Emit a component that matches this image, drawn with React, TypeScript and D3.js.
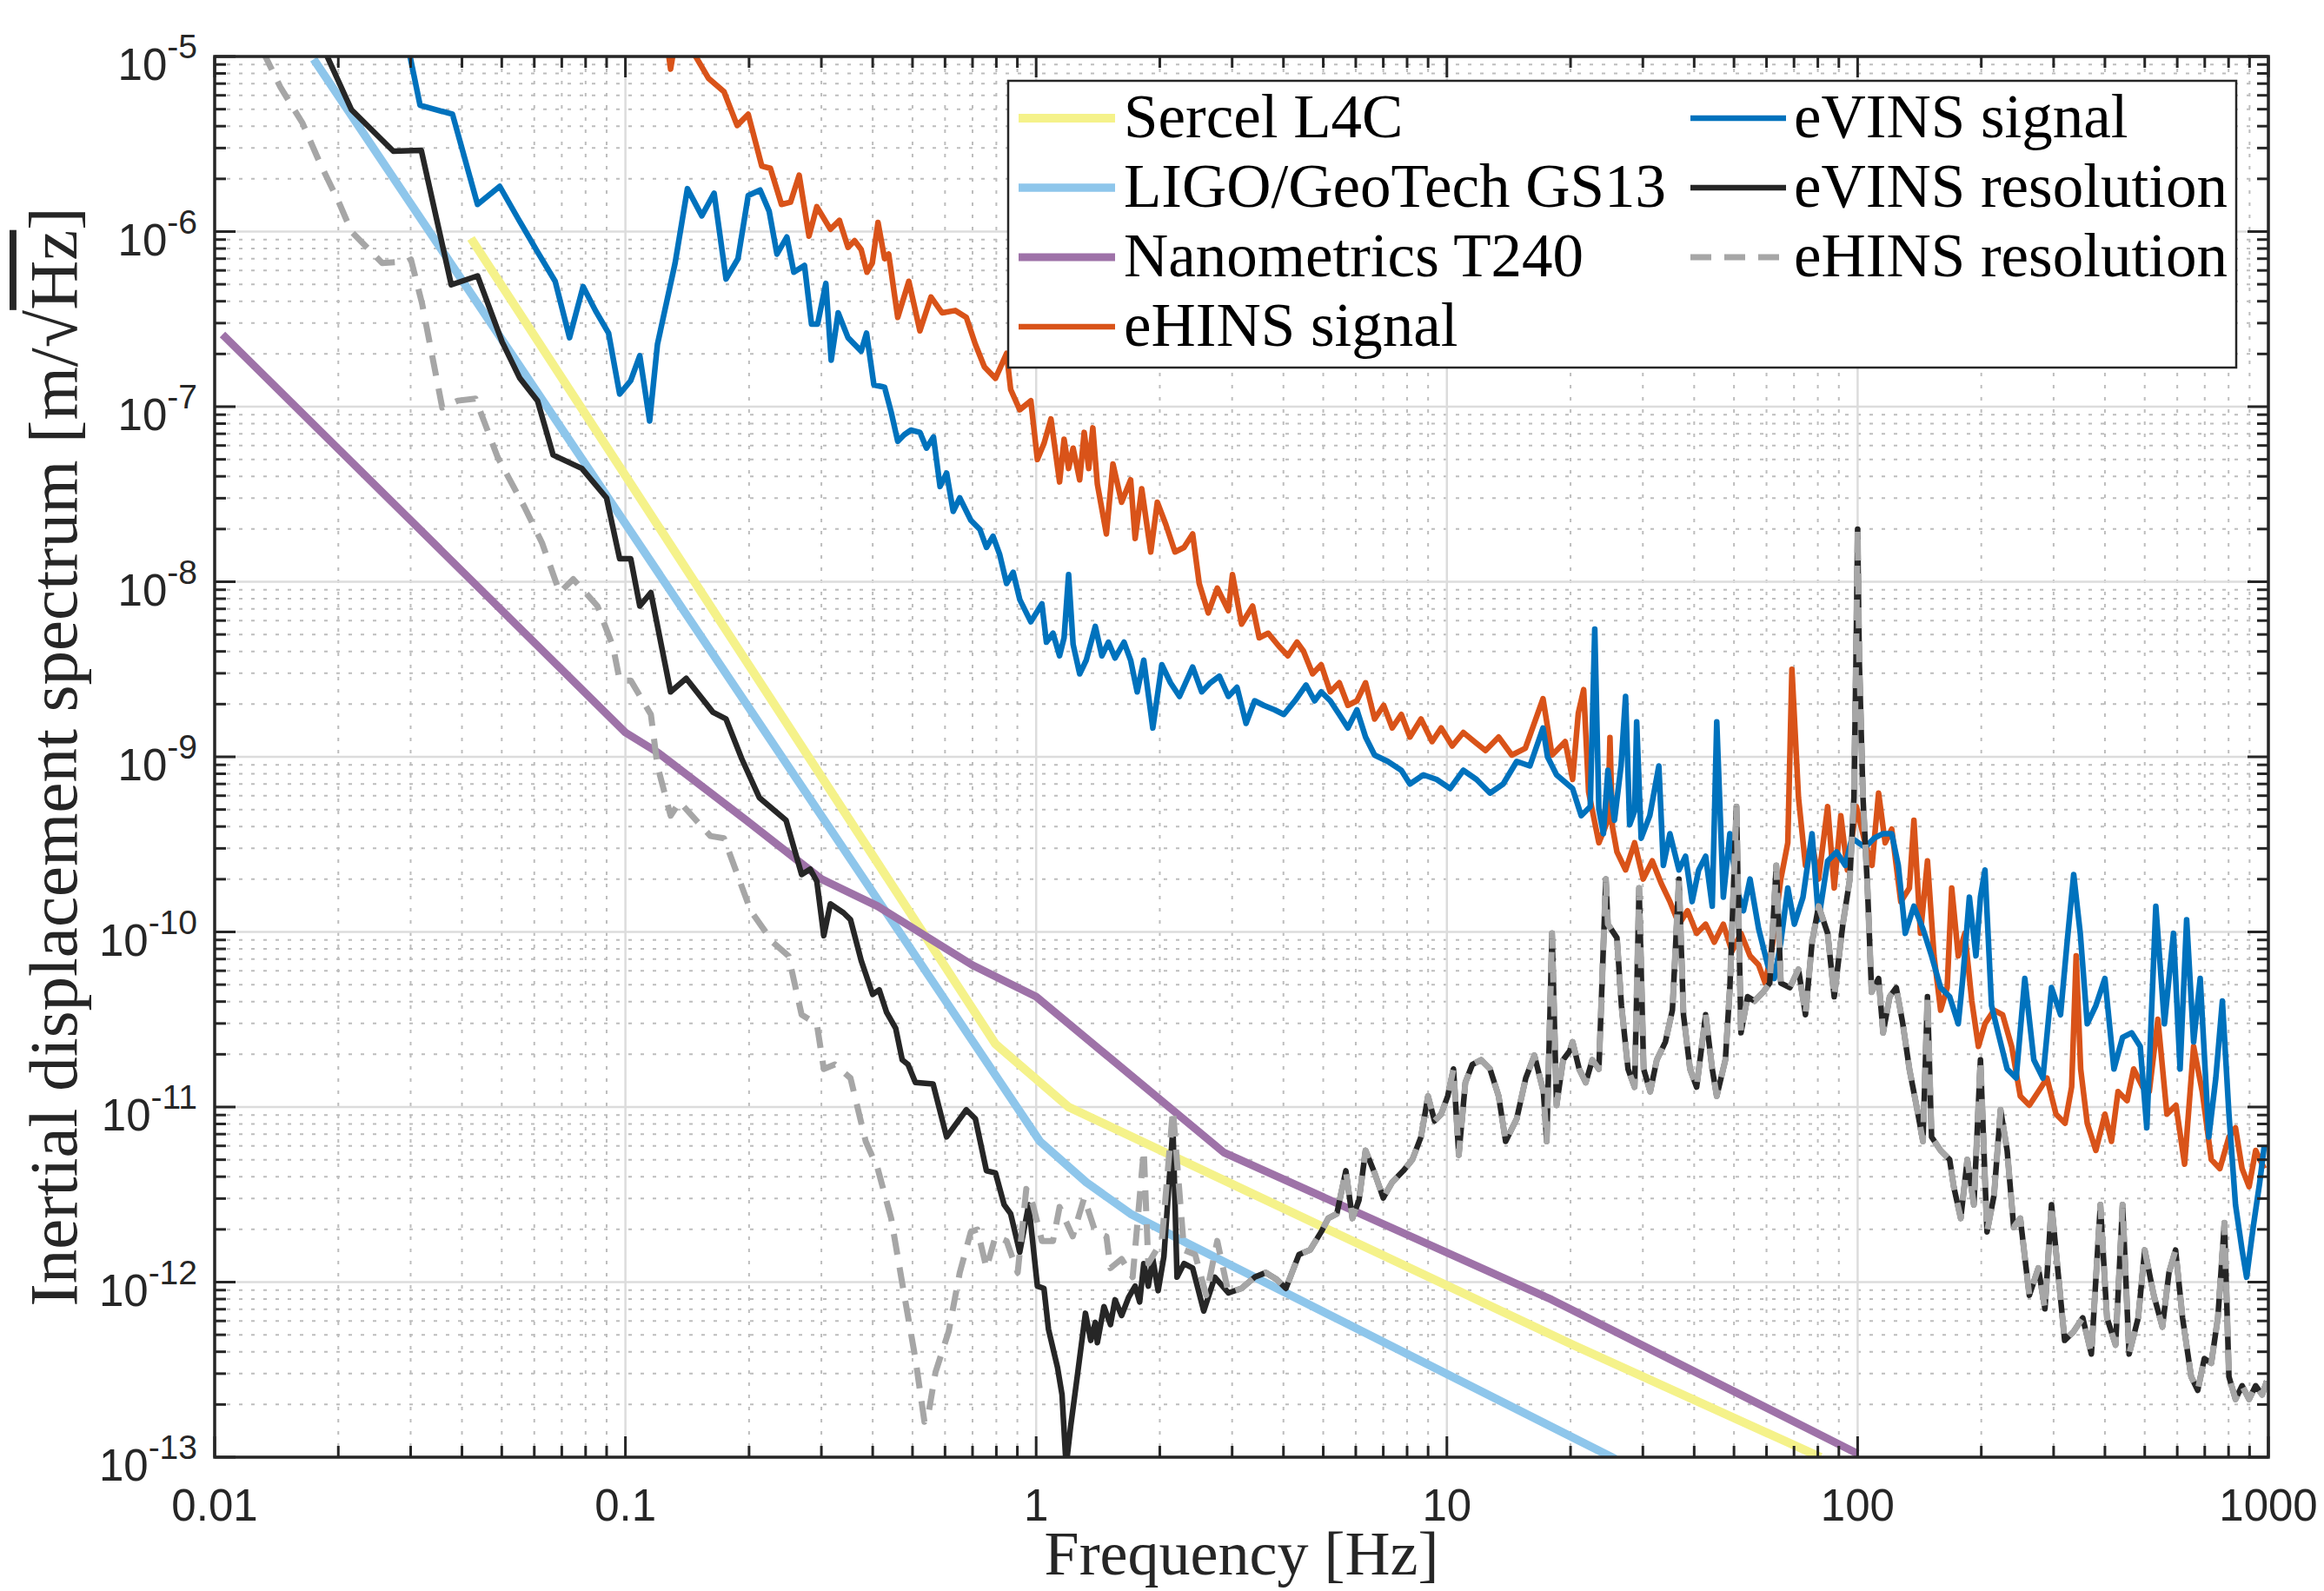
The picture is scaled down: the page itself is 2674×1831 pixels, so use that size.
import React from 'react';
import * as d3 from 'd3';

type P = [number, number];

// ---------- axis / tick data ----------
const xTickValues = [0.01, 0.1, 1, 10, 100, 1000];
const xTickLabels = ['0.01', '0.1', '1', '10', '100', '1000'];
const yTickExponents = [-5, -6, -7, -8, -9, -10, -11, -12, -13];

// ---------- series data: [log10 frequency (Hz), log10 amplitude (m/sqrt(Hz))] ----------
const sercelL4C: P[] = [[-1.376, -6.039], [-0.099, -10.64], [0.079, -11.0], [1.308, -12.36], [1.91, -13.0]];

const ligoGS13: P[] = [[-1.759, -5.015], [0.009, -11.196], [0.122, -11.43], [0.23, -11.61], [0.37, -11.78], [1.41, -13.01]];

const nanometricsT240: P[] = [[-1.981, -6.588], [-1.0, -8.861], [-0.922, -8.974], [-0.706, -9.362], [-0.523, -9.698], [-0.386, -9.853], [-0.155, -10.19], [0.0, -10.37], [0.457, -11.26], [1.255, -12.10], [2.0, -12.98]];

const ehinsSignal: P[] = [[-0.900, -4.9], [-0.890, -5.072], [-0.878, -4.9], [-0.840, -4.9], [-0.830, -4.995], [-0.798, -5.124], [-0.760, -5.201], [-0.728, -5.394], [-0.701, -5.330], [-0.668, -5.626], [-0.647, -5.639], [-0.620, -5.845], [-0.598, -5.832], [-0.577, -5.678], [-0.553, -6.026], [-0.534, -5.858], [-0.501, -5.987], [-0.479, -5.936], [-0.458, -6.090], [-0.442, -6.052], [-0.426, -6.103], [-0.412, -6.232], [-0.399, -6.180], [-0.385, -5.948], [-0.369, -6.155], [-0.359, -6.129], [-0.337, -6.490], [-0.310, -6.284], [-0.283, -6.567], [-0.256, -6.374], [-0.229, -6.464], [-0.197, -6.451], [-0.170, -6.490], [-0.148, -6.644], [-0.126, -6.773], [-0.099, -6.838], [-0.072, -6.696], [-0.062, -6.902], [-0.040, -7.018], [-0.013, -6.966], [0.003, -7.302], [0.019, -7.211], [0.036, -7.070], [0.057, -7.430], [0.068, -7.186], [0.079, -7.353], [0.090, -7.237], [0.106, -7.418], [0.117, -7.147], [0.128, -7.353], [0.138, -7.121], [0.149, -7.443], [0.171, -7.727], [0.187, -7.327], [0.208, -7.546], [0.230, -7.418], [0.241, -7.753], [0.257, -7.469], [0.279, -7.830], [0.295, -7.546], [0.316, -7.675], [0.338, -7.830], [0.360, -7.804], [0.381, -7.727], [0.397, -8.010], [0.419, -8.178], [0.441, -8.036], [0.468, -8.165], [0.478, -7.959], [0.500, -8.242], [0.527, -8.139], [0.543, -8.320], [0.565, -8.294], [0.592, -8.371], [0.613, -8.423], [0.635, -8.345], [0.651, -8.397], [0.673, -8.526], [0.694, -8.474], [0.716, -8.629], [0.738, -8.577], [0.759, -8.706], [0.781, -8.680], [0.802, -8.577], [0.824, -8.784], [0.846, -8.706], [0.867, -8.835], [0.889, -8.758], [0.910, -8.887], [0.937, -8.784], [0.964, -8.913], [0.986, -8.835], [1.013, -8.938], [1.040, -8.861], [1.067, -8.913], [1.094, -8.964], [1.126, -8.887], [1.158, -8.990], [1.191, -8.951], [1.234, -8.668], [1.256, -8.990], [1.288, -8.913], [1.306, -9.129], [1.320, -8.75], [1.333, -8.616], [1.345, -9.2], [1.370, -9.491], [1.392, -9.362], [1.397, -8.89], [1.403, -9.4], [1.414, -9.543], [1.435, -9.646], [1.457, -9.491], [1.478, -9.698], [1.500, -9.594], [1.522, -9.724], [1.543, -9.827], [1.565, -9.956], [1.586, -9.879], [1.608, -10.008], [1.630, -9.956], [1.651, -10.059], [1.673, -9.956], [1.694, -10.111], [1.716, -10.008], [1.738, -10.137], [1.759, -10.189], [1.775, -10.292], [1.792, -10.085], [1.813, -9.698], [1.830, -9.491], [1.840, -8.50], [1.856, -9.233], [1.873, -9.620], [1.889, -9.491], [1.905, -9.698], [1.927, -9.284], [1.943, -9.749], [1.959, -9.336], [1.975, -9.646], [1.997, -9.284], [2.018, -9.491], [2.035, -9.620], [2.051, -9.207], [2.067, -9.491], [2.083, -9.413], [2.105, -9.827], [2.126, -9.749], [2.137, -9.362], [2.153, -10.008], [2.170, -9.594], [2.186, -10.137], [2.202, -10.447], [2.218, -10.318], [2.229, -9.749], [2.245, -10.137], [2.261, -10.008], [2.278, -10.395], [2.294, -10.654], [2.310, -10.525], [2.332, -10.447], [2.353, -10.473], [2.375, -10.654], [2.396, -10.938], [2.418, -10.990], [2.440, -10.912], [2.461, -10.835], [2.483, -11.041], [2.505, -11.093], [2.521, -10.886], [2.532, -10.137], [2.543, -10.783], [2.559, -11.093], [2.580, -11.248], [2.602, -11.041], [2.618, -11.196], [2.634, -10.912], [2.656, -10.964], [2.672, -10.783], [2.694, -10.886], [2.710, -10.912], [2.731, -10.499], [2.753, -11.041], [2.775, -10.990], [2.796, -11.326], [2.818, -10.654], [2.839, -10.912], [2.861, -11.300], [2.882, -11.352], [2.904, -11.171], [2.920, -11.119], [2.936, -11.352], [2.953, -11.455], [2.969, -11.248], [2.990, -11.352]];

const evinsSignal: P[] = [[-1.527, -4.969], [-1.500, -5.278], [-1.421, -5.330], [-1.392, -5.575], [-1.360, -5.845], [-1.306, -5.742], [-1.262, -5.923], [-1.214, -6.116], [-1.171, -6.284], [-1.136, -6.606], [-1.103, -6.314], [-1.073, -6.451], [-1.041, -6.580], [-1.014, -6.928], [-0.987, -6.851], [-0.965, -6.709], [-0.941, -7.082], [-0.922, -6.644], [-0.879, -6.180], [-0.849, -5.755], [-0.814, -5.910], [-0.784, -5.781], [-0.755, -6.271], [-0.726, -6.155], [-0.701, -5.794], [-0.672, -5.763], [-0.650, -5.884], [-0.631, -6.129], [-0.607, -6.031], [-0.590, -6.232], [-0.564, -6.193], [-0.547, -6.528], [-0.532, -6.528], [-0.512, -6.296], [-0.499, -6.735], [-0.482, -6.464], [-0.458, -6.606], [-0.426, -6.683], [-0.413, -6.580], [-0.395, -6.876], [-0.369, -6.889], [-0.353, -7.031], [-0.337, -7.198], [-0.321, -7.160], [-0.305, -7.134], [-0.283, -7.147], [-0.267, -7.237], [-0.250, -7.173], [-0.234, -7.456], [-0.218, -7.379], [-0.202, -7.598], [-0.186, -7.521], [-0.159, -7.649], [-0.137, -7.701], [-0.121, -7.804], [-0.105, -7.740], [-0.089, -7.843], [-0.072, -8.010], [-0.056, -7.946], [-0.040, -8.101], [-0.013, -8.229], [0.014, -8.126], [0.025, -8.345], [0.041, -8.294], [0.057, -8.423], [0.068, -8.320], [0.079, -7.959], [0.090, -8.358], [0.106, -8.526], [0.122, -8.448], [0.144, -8.255], [0.160, -8.423], [0.176, -8.345], [0.192, -8.436], [0.214, -8.345], [0.230, -8.448], [0.246, -8.629], [0.262, -8.448], [0.284, -8.835], [0.306, -8.474], [0.327, -8.577], [0.349, -8.655], [0.381, -8.487], [0.403, -8.629], [0.424, -8.577], [0.446, -8.539], [0.468, -8.655], [0.489, -8.603], [0.511, -8.809], [0.532, -8.680], [0.554, -8.706], [0.581, -8.732], [0.603, -8.758], [0.630, -8.680], [0.657, -8.590], [0.678, -8.680], [0.694, -8.629], [0.716, -8.680], [0.738, -8.758], [0.759, -8.835], [0.781, -8.732], [0.802, -8.887], [0.824, -8.990], [0.856, -9.026], [0.889, -9.077], [0.910, -9.155], [0.943, -9.103], [0.975, -9.129], [1.008, -9.181], [1.040, -9.077], [1.072, -9.129], [1.105, -9.207], [1.137, -9.155], [1.170, -9.026], [1.202, -9.052], [1.234, -8.835], [1.245, -9.0], [1.267, -9.103], [1.306, -9.181], [1.327, -9.336], [1.349, -9.284], [1.360, -8.27], [1.370, -9.3], [1.381, -9.439], [1.392, -9.077], [1.408, -9.362], [1.424, -9.052], [1.435, -8.655], [1.445, -9.388], [1.457, -9.310], [1.462, -8.80], [1.473, -9.465], [1.494, -9.336], [1.516, -9.052], [1.527, -9.620], [1.543, -9.439], [1.565, -9.646], [1.581, -9.568], [1.597, -9.827], [1.613, -9.646], [1.630, -9.568], [1.646, -9.853], [1.657, -8.80], [1.673, -9.801], [1.689, -9.439], [1.705, -9.749], [1.722, -9.879], [1.738, -9.698], [1.759, -9.982], [1.781, -10.189], [1.797, -10.266], [1.813, -10.059], [1.830, -9.749], [1.846, -9.956], [1.867, -9.801], [1.889, -9.439], [1.905, -9.930], [1.927, -9.594], [1.949, -9.543], [1.970, -9.620], [1.986, -9.465], [2.018, -9.517], [2.040, -9.465], [2.062, -9.439], [2.083, -9.439], [2.099, -9.620], [2.116, -10.008], [2.137, -9.853], [2.159, -9.982], [2.180, -10.137], [2.202, -10.318], [2.224, -10.370], [2.245, -10.525], [2.256, -10.266], [2.272, -9.801], [2.288, -10.137], [2.299, -9.801], [2.310, -9.646], [2.326, -10.421], [2.342, -10.576], [2.364, -10.783], [2.386, -10.835], [2.407, -10.266], [2.429, -10.731], [2.451, -10.835], [2.472, -10.318], [2.494, -10.473], [2.510, -10.059], [2.526, -9.672], [2.542, -10.008], [2.559, -10.525], [2.580, -10.421], [2.602, -10.266], [2.624, -10.783], [2.645, -10.602], [2.667, -10.576], [2.688, -10.654], [2.704, -11.119], [2.726, -9.853], [2.747, -10.525], [2.769, -10.008], [2.785, -10.783], [2.801, -9.930], [2.818, -10.628], [2.834, -10.266], [2.855, -11.171], [2.872, -10.835], [2.888, -10.395], [2.904, -11.041], [2.920, -11.558], [2.936, -11.817], [2.947, -11.972], [2.963, -11.687], [2.979, -11.429], [2.990, -11.222]];

// eVINS resolution below ~2.9 Hz
const evinsResolutionLow: P[] = [[-1.732, -4.969], [-1.667, -5.304], [-1.565, -5.541], [-1.497, -5.536], [-1.424, -6.304], [-1.360, -6.253], [-1.300, -6.631], [-1.257, -6.838], [-1.214, -6.966], [-1.176, -7.276], [-1.106, -7.353], [-1.046, -7.521], [-1.014, -7.869], [-0.987, -7.869], [-0.965, -8.139], [-0.938, -8.062], [-0.890, -8.629], [-0.852, -8.552], [-0.787, -8.745], [-0.755, -8.784], [-0.717, -9.01], [-0.674, -9.233], [-0.609, -9.362], [-0.571, -9.672], [-0.550, -9.641], [-0.534, -9.711], [-0.517, -10.021], [-0.501, -9.840], [-0.469, -9.891], [-0.452, -9.930], [-0.426, -10.163], [-0.398, -10.357], [-0.382, -10.331], [-0.364, -10.460], [-0.342, -10.550], [-0.326, -10.731], [-0.312, -10.757], [-0.294, -10.860], [-0.251, -10.868], [-0.218, -11.171], [-0.170, -11.016], [-0.148, -11.067], [-0.121, -11.364], [-0.099, -11.377], [-0.078, -11.558], [-0.062, -11.610], [-0.040, -11.829], [-0.018, -11.558], [0.003, -12.023], [0.019, -12.036], [0.030, -12.269], [0.052, -12.488], [0.063, -12.643], [0.073, -13.05], [0.084, -12.824], [0.100, -12.540], [0.120, -12.178], [0.133, -12.333], [0.144, -12.230], [0.149, -12.346], [0.165, -12.140], [0.181, -12.243], [0.192, -12.101], [0.208, -12.191], [0.225, -12.088], [0.241, -12.023], [0.252, -12.114], [0.262, -11.894], [0.273, -12.023], [0.284, -11.868], [0.297, -12.049], [0.311, -11.855], [0.333, -11.119], [0.343, -11.972], [0.360, -11.894], [0.381, -11.920], [0.408, -12.165], [0.435, -11.972]];

// eHINS resolution below ~2.9 Hz
const ehinsResolutionLow: P[] = [[-1.883, -4.969], [-1.840, -5.175], [-1.786, -5.381], [-1.743, -5.613], [-1.700, -5.820], [-1.667, -6.0], [-1.592, -6.180], [-1.53, -6.17], [-1.522, -6.16], [-1.495, -6.412], [-1.446, -7.005], [-1.408, -6.966], [-1.365, -6.954], [-1.311, -7.289], [-1.246, -7.572], [-1.203, -7.778], [-1.160, -8.062], [-1.127, -7.985], [-1.068, -8.139], [-1.030, -8.371], [-1.014, -8.564], [-0.987, -8.564], [-0.938, -8.758], [-0.922, -9.052], [-0.890, -9.336], [-0.868, -9.258], [-0.793, -9.452], [-0.760, -9.465], [-0.695, -9.879], [-0.641, -10.059], [-0.603, -10.137], [-0.571, -10.473], [-0.534, -10.525], [-0.517, -10.783], [-0.490, -10.757], [-0.452, -10.835], [-0.415, -11.196], [-0.386, -11.35], [-0.353, -11.636], [-0.321, -12.075], [-0.294, -12.437], [-0.272, -12.798], [-0.261, -12.734], [-0.245, -12.514], [-0.213, -12.282], [-0.186, -11.946], [-0.159, -11.713], [-0.143, -11.700], [-0.121, -11.920], [-0.099, -11.739], [-0.072, -11.765], [-0.045, -11.946], [-0.024, -11.468], [-0.008, -11.558], [0.014, -11.765], [0.041, -11.765], [0.057, -11.571], [0.089, -11.739], [0.117, -11.519], [0.144, -11.713], [0.171, -11.739], [0.181, -11.920], [0.208, -11.868], [0.235, -11.972], [0.262, -11.248], [0.273, -11.894], [0.306, -11.765], [0.333, -11.016], [0.360, -11.817], [0.387, -11.842], [0.414, -12.075], [0.441, -11.765]];

// shared resolution floor above ~2.9 Hz (both curves coincide)
const resolutionHigh: P[] = [[0.468, -12.062], [0.500, -12.036], [0.532, -11.972], [0.559, -11.946], [0.586, -11.985], [0.608, -12.036], [0.640, -11.842], [0.667, -11.816], [0.694, -11.713], [0.711, -11.636], [0.732, -11.610], [0.754, -11.364], [0.770, -11.636], [0.786, -11.532], [0.802, -11.248], [0.824, -11.377], [0.845, -11.519], [0.867, -11.429], [0.894, -11.364], [0.916, -11.300], [0.937, -11.171], [0.954, -10.938], [0.970, -11.080], [0.986, -11.041], [1.002, -10.938], [1.016, -10.783], [1.029, -11.274], [1.045, -10.860], [1.062, -10.757], [1.083, -10.731], [1.105, -10.783], [1.126, -10.938], [1.143, -11.196], [1.170, -11.067], [1.192, -10.835], [1.213, -10.705], [1.235, -10.912], [1.243, -11.196], [1.256, -10.008], [1.267, -10.990], [1.283, -10.731], [1.299, -10.680], [1.306, -10.628], [1.322, -10.783], [1.338, -10.860], [1.354, -10.731], [1.370, -10.783], [1.387, -9.698], [1.392, -9.956], [1.414, -10.034], [1.425, -10.421], [1.441, -10.783], [1.457, -10.886], [1.468, -9.749], [1.479, -10.783], [1.495, -10.912], [1.511, -10.731], [1.532, -10.628], [1.549, -10.447], [1.565, -9.698], [1.576, -10.473], [1.592, -10.783], [1.608, -10.886], [1.630, -10.473], [1.646, -10.783], [1.657, -10.938], [1.678, -10.731], [1.689, -10.318], [1.705, -9.284], [1.716, -10.576], [1.732, -10.370], [1.749, -10.395], [1.770, -10.344], [1.786, -10.292], [1.802, -9.620], [1.813, -10.292], [1.835, -10.318], [1.856, -10.214], [1.873, -10.473], [1.889, -10.059], [1.905, -9.853], [1.927, -10.008], [1.943, -10.370], [1.964, -9.956], [1.981, -9.698], [1.991, -9.233], [1.996, -8.45], [2.0, -7.70], [2.004, -8.45], [2.013, -9.233], [2.024, -9.749], [2.034, -10.344], [2.051, -10.266], [2.062, -10.576], [2.078, -10.370], [2.094, -10.318], [2.110, -10.525], [2.126, -10.783], [2.143, -10.990], [2.159, -11.196], [2.170, -10.370], [2.180, -11.171], [2.202, -11.248], [2.224, -11.300], [2.234, -11.455], [2.251, -11.636], [2.267, -11.300], [2.283, -11.558], [2.299, -10.731], [2.315, -11.713], [2.332, -11.506], [2.348, -11.016], [2.364, -11.248], [2.380, -11.687], [2.396, -11.636], [2.418, -12.075], [2.440, -11.920], [2.456, -12.153], [2.472, -11.558], [2.488, -11.946], [2.504, -12.333], [2.526, -12.282], [2.548, -12.204], [2.569, -12.411], [2.591, -11.558], [2.607, -12.204], [2.628, -12.359], [2.645, -11.558], [2.661, -12.411], [2.683, -12.204], [2.699, -11.817], [2.721, -12.075], [2.742, -12.256], [2.758, -11.946], [2.774, -11.817], [2.791, -12.204], [2.812, -12.540], [2.828, -12.618], [2.844, -12.437], [2.861, -12.463], [2.877, -12.204], [2.893, -11.661], [2.904, -12.540], [2.920, -12.669], [2.936, -12.592], [2.953, -12.669], [2.969, -12.592], [2.985, -12.643], [2.996, -12.566]];

const seriesNames = ['Sercel L4C', 'LIGO/GeoTech GS13', 'Nanometrics T240', 'eHINS signal', 'eVINS signal', 'eVINS resolution', 'eHINS resolution'];

// ---------- layout & style ----------
const W = 2674;
const H = 1831;
const PL = 247, PR = 2610, PT = 65, PB = 1677;
const AX = '#262626';
const SANS = "'Liberation Sans', Arial, Helvetica, sans-serif";
const SERIF = "'Liberation Serif', 'Times New Roman', serif";

const styles = [
  { color: '#F5F28A', width: 10, dash: '' },
  { color: '#8EC6EB', width: 9.5, dash: '' },
  { color: '#9E72A8', width: 9, dash: '' },
  { color: '#D95319', width: 6.5, dash: '' },
  { color: '#0072BD', width: 6.5, dash: '' },
  { color: '#262626', width: 6.5, dash: '' },
  { color: '#A6A6A6', width: 7, dash: '24,15' },
];

const toLin = (a: P[]): P[] => a.map(([lf, la]) => [Math.pow(10, lf), Math.pow(10, la)] as P);

export default function App() {
  const x = d3.scaleLog().domain([0.01, 1000]).range([PL, PR]);
  const y = d3.scaleLog().domain([1e-13, 1e-5]).range([PB, PT]);
  const line = d3.line<P>().x((d) => x(d[0])).y((d) => y(d[1]));

  const data: P[][] = [
    toLin(sercelL4C),
    toLin(ligoGS13),
    toLin(nanometricsT240),
    toLin(ehinsSignal),
    toLin(evinsSignal),
    toLin(evinsResolutionLow.concat(resolutionHigh)),
    toLin(ehinsResolutionLow.concat(resolutionHigh)),
  ];

  const xMinor: number[] = [];
  for (let e = -2; e < 3; e++) for (let k = 2; k <= 9; k++) xMinor.push(k * Math.pow(10, e));
  const yMinor: number[] = [];
  for (let e = -13; e < -5; e++) for (let k = 2; k <= 9; k++) yMinor.push(k * Math.pow(10, e));
  const yMajor = yTickExponents.map((e) => Math.pow(10, e));

  const MAJ = 24, MIN = 13;

  // legend layout
  const legRows = [136, 216, 296, 376];
  const legCols = [
    { x0: 1172, x1: 1283, tx: 1293 },
    { x0: 1945, x1: 2055, tx: 2064 },
  ];
  const legendItems = seriesNames.map((name, i) => {
    const col = i < 4 ? 0 : 1;
    const row = i < 4 ? i : i - 4;
    return { name, i, col: legCols[col], yy: legRows[row] };
  });

  return (
    <svg width={W} height={H} style={{ position: 'absolute', left: 0, top: 0, background: '#fff' }}>
      <defs>
        <clipPath id="plotArea">
          <rect x={PL} y={PT} width={PR - PL} height={PB - PT} />
        </clipPath>
      </defs>
      <rect x={0} y={0} width={W} height={H} fill="#fff" />

      {/* minor grid */}
      <g stroke="#BDBDBD" strokeWidth={2} strokeDasharray="4,10">
        {xMinor.map((v) => (
          <line key={'xm' + v} x1={x(v)} x2={x(v)} y1={PT} y2={PB} />
        ))}
        {yMinor.map((v) => (
          <line key={'ym' + v} x1={PL} x2={PR} y1={y(v)} y2={y(v)} />
        ))}
      </g>
      {/* major grid */}
      <g stroke="#DCDCDC" strokeWidth={2.5}>
        {xTickValues.map((v) => (
          <line key={'xg' + v} x1={x(v)} x2={x(v)} y1={PT} y2={PB} />
        ))}
        {yMajor.map((v) => (
          <line key={'yg' + v} x1={PL} x2={PR} y1={y(v)} y2={y(v)} />
        ))}
      </g>

      {/* data */}
      <g clipPath="url(#plotArea)" fill="none" strokeLinejoin="round">
        {data.map((d, i) => (
          <path
            key={'s' + i}
            d={line(d) || ''}
            stroke={styles[i].color}
            strokeWidth={styles[i].width}
            strokeDasharray={styles[i].dash || undefined}
          />
        ))}
      </g>

      {/* ticks */}
      <g stroke={AX} strokeWidth={3}>
        {xTickValues.map((v) => (
          <g key={'xt' + v}>
            <line x1={x(v)} x2={x(v)} y1={PB} y2={PB - MAJ} />
            <line x1={x(v)} x2={x(v)} y1={PT} y2={PT + MAJ} />
          </g>
        ))}
        {xMinor.map((v) => (
          <g key={'xmt' + v}>
            <line x1={x(v)} x2={x(v)} y1={PB} y2={PB - MIN} />
            <line x1={x(v)} x2={x(v)} y1={PT} y2={PT + MIN} />
          </g>
        ))}
        {yMajor.map((v) => (
          <g key={'yt' + v}>
            <line x1={PL} x2={PL + MAJ} y1={y(v)} y2={y(v)} />
            <line x1={PR} x2={PR - MAJ} y1={y(v)} y2={y(v)} />
          </g>
        ))}
        {yMinor.map((v) => (
          <g key={'ymt' + v}>
            <line x1={PL} x2={PL + MIN} y1={y(v)} y2={y(v)} />
            <line x1={PR} x2={PR - MIN} y1={y(v)} y2={y(v)} />
          </g>
        ))}
      </g>
      <rect x={PL} y={PT} width={PR - PL} height={PB - PT} fill="none" stroke={AX} strokeWidth={3.5} />

      {/* tick labels */}
      <g fill={AX} fontFamily={SANS}>
        {xTickValues.map((v, i) => (
          <text key={'xl' + v} x={x(v)} y={PB + 73} textAnchor="middle" fontSize={51}>
            {xTickLabels[i]}
          </text>
        ))}
        {yTickExponents.map((e) => (
          <text key={'yl' + e} x={PL - 20} y={y(Math.pow(10, e)) + 27} textAnchor="end" fontSize={51}>
            10
            <tspan dy={-25} fontSize={39}>{'-' + Math.abs(e)}</tspan>
          </text>
        ))}
      </g>

      {/* axis labels */}
      <text x={(PL + PR) / 2} y={1812} textAnchor="middle" fontFamily={SERIF} fontSize={72} fill={AX}>
        Frequency [Hz]
      </text>
      <text
        transform={`translate(88, ${(PT + PB) / 2}) rotate(-90)`}
        textAnchor="middle"
        fontFamily={SERIF}
        fontSize={79}
        fill={AX}
      >
        Inertial displacement spectrum [m/
        <tspan>√</tspan>
        <tspan style={{ textDecoration: 'overline' }}>Hz</tspan>]
      </text>

      {/* legend */}
      <rect x={1160} y={93} width={1413} height={330} fill="#fff" stroke={AX} strokeWidth={2.5} />
      {legendItems.map((it) => (
        <g key={'lg' + it.i}>
          <line
            x1={it.col.x0}
            x2={it.col.x1}
            y1={it.yy}
            y2={it.yy}
            stroke={styles[it.i].color}
            strokeWidth={styles[it.i].width}
            strokeDasharray={styles[it.i].dash || undefined}
          />
          <text x={it.col.tx} y={it.yy + 22} fontFamily={SERIF} fontSize={71} fill="#000">
            {it.name}
          </text>
        </g>
      ))}
    </svg>
  );
}
